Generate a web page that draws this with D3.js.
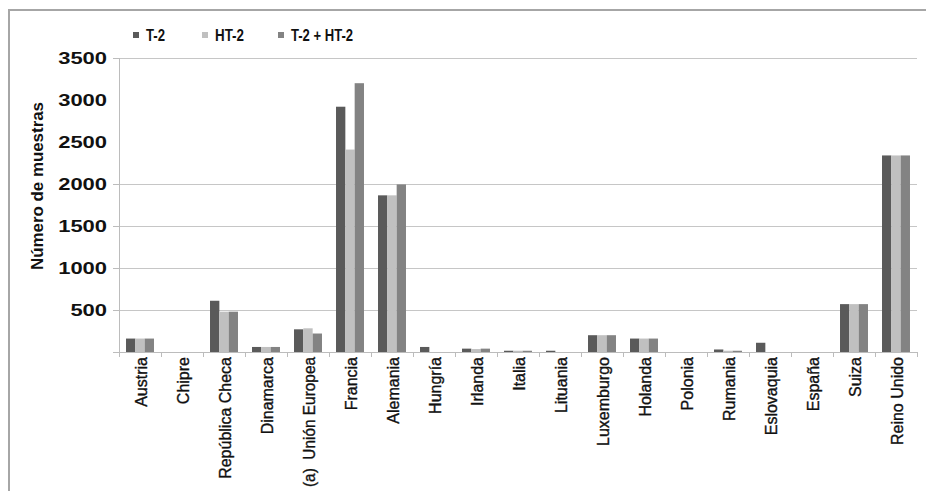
<!DOCTYPE html>
<html><head><meta charset="utf-8">
<script src="https://cdn.jsdelivr.net/npm/d3@7"></script>
<style>body{margin:0;background:#fff}svg{display:block}</style>
</head><body>
<svg id="c" width="926" height="491"></svg>
<script>
const categories = ["Austria","Chipre","República Checa","Dinamarca","(a)  Unión Europea","Francia","Alemania","Hungría","Irlanda","Italia","Lituania","Luxemburgo","Holanda","Polonia","Rumania","Eslovaquia","España","Suiza","Reino Unido"];
const seriesNames = ["T-2","HT-2","T-2 + HT-2"];
const t2   = [160,0,610,60,270,2920,1865,60,40,15,15,200,160,0,30,110,0,570,2340];
const ht2  = [160,0,480,60,282,2410,1865,0,35,15,0,200,160,0,15,0,0,570,2340];
const both = [160,0,480,60,220,3200,1995,0,40,15,0,200,160,0,15,0,0,570,2340];
const yTickLabels = [500,1000,1500,2000,2500,3000,3500];
const gridValues = [500,1000,1500,2000,3500];
const tickMarkValues = [0,500,1000,1500,2000,3500];
const colors = ["#5a5a5a","#c0c0c0","#838383"];

const svg = d3.select("#c");
const values = [t2, ht2, both];
const pL = 119, pR = 917, pT = 58, pB = 352;

// outer frame
svg.append("path").attr("d","M9,491V10H926").attr("fill","none").attr("stroke","#a6a6a6").attr("stroke-width",2);

const x0 = d3.scaleBand().domain(d3.range(categories.length)).range([pL, pR]).padding(0);
const y = d3.scaleLinear().domain([0,3500]).range([pB, pT]);
const x1 = d3.scaleBand().domain(seriesNames).range([x0.bandwidth()*0.167, x0.bandwidth()*0.833]);

// gridlines
svg.append("g").selectAll("line").data(gridValues).join("line")
  .attr("x1", pL).attr("x2", pR).attr("y1", d=>Math.round(y(d))+0.5).attr("y2", d=>Math.round(y(d))+0.5)
  .attr("stroke","#c6c6c6").attr("stroke-width",1);

// y axis line + tick marks
svg.append("line").attr("x1",pL+0.5).attr("x2",pL+0.5).attr("y1",pT).attr("y2",pB+1).attr("stroke","#bcbcbc");
svg.append("g").selectAll("line").data(tickMarkValues).join("line")
  .attr("x1", pL-6).attr("x2", pL).attr("y1", d=>Math.round(y(d))+0.5).attr("y2", d=>Math.round(y(d))+0.5)
  .attr("stroke","#bcbcbc");

// y tick labels
svg.append("g").selectAll("text").data(yTickLabels).join("text")
  .attr("x", 107).attr("y", d=>y(d)).attr("dy","0.36em")
  .attr("text-anchor","end")
  .attr("font-family","Liberation Sans, Arial, sans-serif").attr("font-weight","bold").attr("font-size",16)
  .attr("textLength", d=>String(d).length*12.2).attr("lengthAdjust","spacingAndGlyphs")
  .attr("fill","#111").text(d=>d);

// y title
svg.append("text").attr("transform","translate(43,186) rotate(-90)")
  .attr("text-anchor","middle").attr("font-family","Liberation Sans, Arial, sans-serif")
  .attr("font-weight","bold").attr("font-size",16.5).attr("fill","#111")
  .attr("textLength",168).attr("lengthAdjust","spacingAndGlyphs")
  .text("Número de muestras");

// bars
const g = svg.append("g");
categories.forEach((c,i)=>{
  seriesNames.forEach((s,k)=>{
    const v = values[k][i];
    if (v<=0) return;
    g.append("rect").attr("x", x0(i)+x1(s)).attr("width", x1.bandwidth())
      .attr("y", y(v)).attr("height", pB - y(v)).attr("fill", colors[k]);
  });
});

// x axis
svg.append("line").attr("x1",pL-6).attr("x2",pR).attr("y1",pB+0.5).attr("y2",pB+0.5).attr("stroke","#bcbcbc");
svg.append("g").selectAll("line").data(d3.range(categories.length+1)).join("line")
  .attr("x1", d=>Math.round(pL + d*x0.step())+0.5).attr("x2", d=>Math.round(pL + d*x0.step())+0.5)
  .attr("y1", pB).attr("y2", pB+5).attr("stroke","#bcbcbc");

// x labels
svg.append("g").selectAll("text").data(categories).join("text")
  .attr("transform",(d,i)=>`translate(${x0(i)+x0.bandwidth()/2+1},357) rotate(-90)`)
  .attr("dy","0.36em").attr("text-anchor","end")
  .attr("font-family","Liberation Sans, Arial, sans-serif").attr("font-size",16).attr("fill","#111")
  .attr("stroke","#111").attr("stroke-width",0.35)
  .style("white-space","pre")
  .each(function(d){ if (d.length > 16) d3.select(this).attr("textLength",130).attr("lengthAdjust","spacingAndGlyphs"); })
  .text(d=>d);

// legend
const legendX = [133, 202, 278];
const legendW = [19, 29, 62];
const lg = svg.append("g");
seriesNames.forEach((s,k)=>{
  lg.append("rect").attr("x",legendX[k]).attr("y",32).attr("width",6).attr("height",6).attr("fill",colors[k]);
  lg.append("text").attr("x",legendX[k]+13).attr("y",41)
    .attr("font-family","Liberation Sans, Arial, sans-serif").attr("font-weight","bold").attr("font-size",17)
    .attr("textLength",legendW[k]).attr("lengthAdjust","spacingAndGlyphs")
    .attr("fill","#111").text(s);
});
</script>
</body></html>
